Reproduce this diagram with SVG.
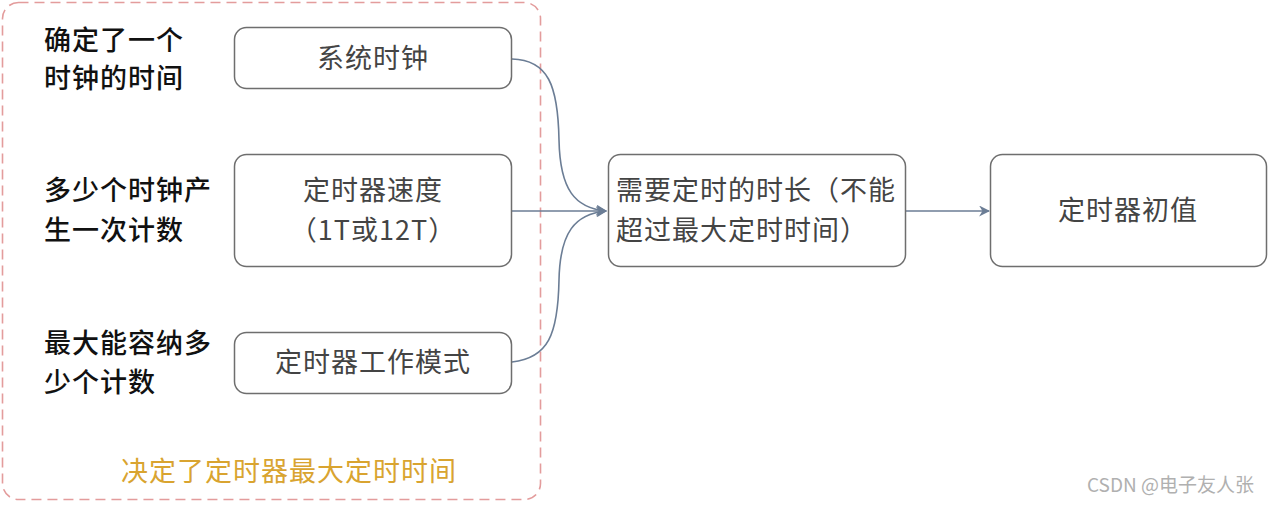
<svg xmlns="http://www.w3.org/2000/svg" width="1269" height="505" viewBox="0 0 1269 505">
<style>
text{font-family:"Noto Sans CJK SC","Noto Sans",sans-serif;letter-spacing:1px;}
.node{fill:#fff;stroke:#6e6e6e;stroke-width:1.5;}
.nt{font-size:27px;fill:#444;text-anchor:middle;}
.lbl{font-size:27px;fill:#111;font-weight:500;}
.conn{fill:none;stroke:#6b7d95;stroke-width:1.6;}
</style>
<defs>
<marker id="arr" viewBox="0 0 10 10" refX="9" refY="5" markerWidth="11" markerHeight="11" orient="auto" markerUnits="userSpaceOnUse">
<path d="M0,0 L10,5 L0,10 L3,5 z" fill="#6b7d95"/>
</marker>
</defs>
<rect width="1269" height="505" fill="#fff"/>
<g id="group-box">
<rect x="2.5" y="2.5" width="538" height="497" rx="16" fill="none" stroke="#e39c9c" stroke-width="1.6" stroke-dasharray="10 6"/>
<text x="289" y="481" style="font-size:27px;fill:#d9a430;text-anchor:middle">决定了定时器最大定时时间</text>
</g>
<g id="labels">
<text class="lbl" x="44" y="50">确定了一个</text>
<text class="lbl" x="44" y="88">时钟的时间</text>
<text class="lbl" x="44" y="200">多少个时钟产</text>
<text class="lbl" x="44" y="240">生一次计数</text>
<text class="lbl" x="44" y="353">最大能容纳多</text>
<text class="lbl" x="44" y="392">少个计数</text>
</g>
<g id="connectors">
<path class="conn" d="M512,59 C548,60 558,85 559,140 C560,190 575,208 606,211" marker-end="url(#arr)"/>
<path class="conn" d="M512,211 L606,211" marker-end="url(#arr)"/>
<path class="conn" d="M512,362 C548,358 558,335 559,280 C560,232 575,214 606,211" marker-end="url(#arr)"/>
<path class="conn" d="M906,211 L989,211" marker-end="url(#arr)"/>
</g>
<g id="n1"><rect class="node" x="234.5" y="27.5" width="277" height="61" rx="12"/><text class="nt" x="373" y="68">系统时钟</text></g>
<g id="n2"><rect class="node" x="234.5" y="154.5" width="277" height="112" rx="12"/><text class="nt" x="373" y="200">定时器速度</text><text class="nt" x="373" y="240">（1T或12T）</text></g>
<g id="n3"><rect class="node" x="234.5" y="332.5" width="277" height="61" rx="12"/><text class="nt" x="373" y="372">定时器工作模式</text></g>
<g id="n4"><rect class="node" x="608.5" y="154.5" width="297" height="112" rx="12"/><text class="nt" x="616" y="200" style="text-anchor:start">需要定时的时长（不能</text><text class="nt" x="616" y="240" style="text-anchor:start">超过最大定时时间）</text></g>
<g id="n5"><rect class="node" x="990.5" y="154.5" width="276" height="112" rx="12"/><text class="nt" x="1128" y="220">定时器初值</text></g>
<text x="1254" y="492" style="font-size:19px;fill:#b0b0b0;text-anchor:end;letter-spacing:0">CSDN @电子友人张</text>
</svg>
